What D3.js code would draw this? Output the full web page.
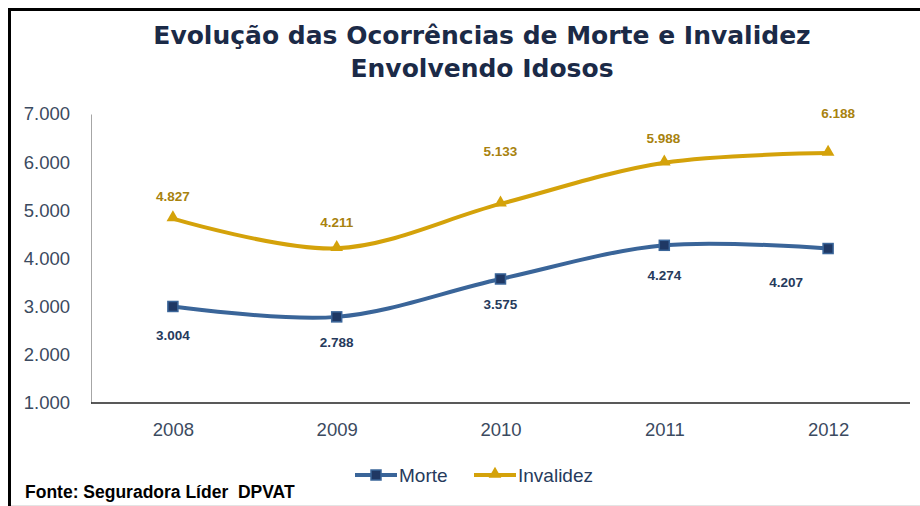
<html>
  <meta charset="utf-8" />
  <script src="https://d3js.org/d3.v7.min.js"></script>
  <style>
    body { margin: 0; background: #fff; }
  </style>
  <body>
    <div id="chart"></div>
    <script>
      const years = ["2008", "2009", "2010", "2011", "2012"];
      const morte = [3004, 2788, 3575, 4274, 4207];
      const invalidez = [4827, 4211, 5133, 5988, 6188];
      const yTicks = [1000, 2000, 3000, 4000, 5000, 6000, 7000];

      const W = 920, H = 506;
      const plotLeft = 91, plotRight = 910, plotTop = 114, plotBottom = 403;

      const svg = d3.select("#chart").append("svg")
        .attr("width", W).attr("height", H);

      // frame
      svg.append("line").attr("x1", 9).attr("x2", W).attr("y1", 9.5).attr("y2", 9.5)
        .attr("stroke", "#000").attr("stroke-width", 3);
      svg.append("line").attr("x1", 9.5).attr("x2", 9.5).attr("y1", 8).attr("y2", H)
        .attr("stroke", "#000").attr("stroke-width", 3);
      svg.append("line").attr("x1", 11).attr("x2", W).attr("y1", 505.5).attr("y2", 505.5)
        .attr("stroke", "#e4e4e4").attr("stroke-width", 1);

      // title
      const title = svg.append("text")
        .attr("text-anchor", "middle")
        .attr("font-family", "DejaVu Sans, Verdana, sans-serif")
        .attr("font-weight", "bold")
        .attr("font-size", 25)
        .attr("fill", "#1b2a47");
      title.append("tspan").attr("x", 482).attr("y", 44).text("Evolução das Ocorrências de Morte e Invalidez");
      title.append("tspan").attr("x", 482).attr("y", 77).text("Envolvendo Idosos");

      const x = d3.scalePoint().domain(years).range([plotLeft, plotRight]).padding(0.5);
      const y = d3.scaleLinear().domain([1000, 7000]).range([plotBottom, plotTop]);

      // y axis
      const yAxis = svg.append("g")
        .attr("transform", `translate(${plotLeft},0)`)
        .call(d3.axisLeft(y).tickValues(yTicks).tickSize(0).tickPadding(21)
          .tickFormat(d => d3.format(",")(d).replace(",", ".")));
      yAxis.select(".domain").attr("stroke", "#a6a6a6");
      yAxis.selectAll("text")
        .attr("font-family", "Liberation Sans, Arial, sans-serif")
        .attr("font-size", 18.5).attr("fill", "#3b4a60");

      // x axis
      const xAxis = svg.append("g")
        .attr("transform", `translate(0,${plotBottom})`)
        .call(d3.axisBottom(x).tickSize(0).tickPadding(20));
      xAxis.select(".domain").attr("stroke", "#222").attr("stroke-width", 1.3)
        .attr("d", `M${plotLeft},0H${plotRight}`);
      xAxis.selectAll("text")
        .attr("font-family", "Liberation Sans, Arial, sans-serif")
        .attr("font-size", 18.5).attr("fill", "#3b4a60");

      const line = d3.line()
        .x((d, i) => x(years[i]))
        .y(d => y(d))
        .curve(d3.curveCatmullRom.alpha(0.5));

      const series = [
        { name: "Morte", values: morte, color: "#3a6599", marker: "square", label: "#263a5c" },
        { name: "Invalidez", values: invalidez, color: "#d4a20a", marker: "triangle", label: "#a8820e" }
      ];

      function drawMarker(g, s, cx, cy) {
        if (s.marker === "square") {
          g.append("rect").attr("x", cx - 5).attr("y", cy - 5).attr("width", 10).attr("height", 10)
            .attr("fill", "#1f3864").attr("stroke", "#3a6599").attr("stroke-width", 1.5);
        } else {
          g.append("path").attr("d", d3.symbol().type(d3.symbolTriangle).size(70)())
            .attr("transform", `translate(${cx},${cy - 1})`)
            .attr("fill", s.color);
        }
      }

      // label offsets (dx, dy) for each series/point
      const labelShift = {
        Morte: [[0, 34], [0, 30], [0, 30], [0, 35], [-42, 38]],
        Invalidez: [[0, -18], [0, -21], [0, -48], [-1, -20], [10, -35]]
      };

      series.forEach(s => {
        const g = svg.append("g");
        g.append("path").attr("d", line(s.values))
          .attr("fill", "none").attr("stroke", s.color).attr("stroke-width", 4)
          .attr("stroke-linecap", "round");
        s.values.forEach((v, i) => {
          drawMarker(g, s, x(years[i]), y(v));
          const sh = labelShift[s.name][i];
          g.append("text")
            .attr("x", x(years[i]) + sh[0]).attr("y", y(v) + sh[1])
            .attr("text-anchor", "middle")
            .attr("font-family", "Liberation Sans, Arial, sans-serif")
            .attr("font-weight", "bold").attr("font-size", 13.5)
            .attr("fill", s.label)
            .text(d3.format(",")(v).replace(",", "."));
        });
      });

      // legend
      const legend = svg.append("g").attr("transform", "translate(355,475)");
      series.forEach((s, i) => {
        const lg = legend.append("g").attr("transform", `translate(${i * 119},0)`);
        lg.append("line").attr("x1", 0).attr("x2", 42).attr("y1", 0).attr("y2", 0)
          .attr("stroke", s.color).attr("stroke-width", 4);
        drawMarker(lg, s, 21, 0);
        lg.append("text").attr("x", 44).attr("y", 7)
          .attr("font-family", "Liberation Sans, Arial, sans-serif")
          .attr("font-size", 19).attr("fill", "#263a5c")
          .text(s.name);
      });

      // source
      svg.append("text").attr("x", 25).attr("y", 498)
        .attr("font-family", "Liberation Sans, Arial, sans-serif")
        .attr("font-weight", "bold").attr("font-size", 17.5).attr("fill", "#000")
        .attr("xml:space", "preserve")
        .text("Fonte: Seguradora Líder  DPVAT");
    </script>
  </body>
</html>
